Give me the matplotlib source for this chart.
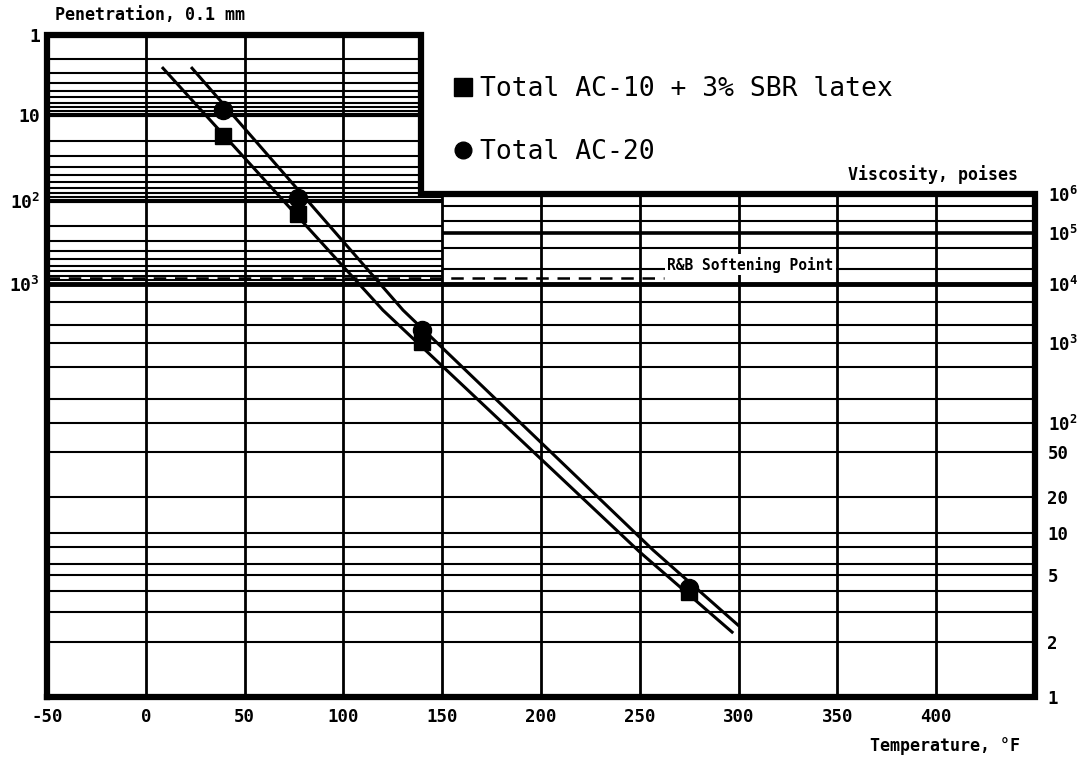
import numpy as np
import matplotlib
matplotlib.use("Agg")
import matplotlib.pyplot as plt
from matplotlib.lines import Line2D

plt.rcParams['font.family'] = ['DejaVu Sans Mono']
plt.rcParams['mathtext.fontset'] = 'custom'
plt.rcParams['mathtext.rm'] = 'DejaVu Sans Mono:bold'
plt.rcParams['mathtext.default'] = 'rm'

# chart scales: value -> vertical chart position (0 = top of penetration box)
PEN_TICKS = [1, 10, 100, 1000]
PEN_POS = [0, 80, 166, 249]
VISC_TICKS = [1, 2, 5, 10, 20, 50, 100, 1e3, 1e4, 1e5, 1e6]
VISC_POS = [662, 607, 540, 498, 462, 417, 388, 308, 249, 198, 159]

pen_grid = [m * 10 ** k for k in range(3) for m in range(1, 10)] + [1000]
visc_grid = [1, 2, 3, 4, 5, 6, 8, 10, 20, 50, 100, 200, 500,
             1e3, 2e3, 5e3, 1e4, 2e4, 5e4, 1e5, 2e5, 5e5, 1e6]
temp_ticks = [-50, 0, 50, 100, 150, 200, 250, 300, 350, 400]
pen_box_edge = 139.3      # right edge of the penetration box, degF
softening_visc = 13000    # R&B softening point, poises

# measured data
pen_temps = [39.2, 77]
visc_temps = [140, 275]
sbr_pen = [17.5, 143]
sbr_visc = [1050, 3.95]
ac20_pen = [8.7, 92]
ac20_visc = [1650, 4.2]

# drawn lines: first vertex on penetration scale, the rest on viscosity scale
sbr_line_temp = [8.7, 120, 250, 296.7]
sbr_line_pen = 2.6
sbr_line_visc = [3600, 7.3, 2.29]
ac20_line_temp = [23.4, 130.2, 256.7, 299.7]
ac20_line_pen = 2.6
ac20_line_visc = [3600, 7.55, 2.52]


def pen_pos(p):
    return np.interp(np.log10(p), np.log10(PEN_TICKS), PEN_POS)


def visc_pos(v):
    return np.interp(np.log10(v), np.log10(VISC_TICKS), VISC_POS)


fig = plt.figure(figsize=(10.8, 7.62), dpi=100)
ax = fig.add_axes([47 / 1080, 1 - 697 / 762, 988 / 1080, 662 / 762])
ymax = visc_pos(1)
ax.set_xlim(-50, 450)
ax.set_ylim(ymax, 0)
ax.set_frame_on(False)

top_right = visc_pos(1e6)
k = dict(color='black', solid_capstyle='butt', zorder=2)

# penetration grid
for p in pen_grid:
    if p in (1, 1000):
        continue
    y = pen_pos(p)
    x1 = pen_box_edge if y < top_right else 150
    lw = 3.0 if p in (10, 100) else 1.5
    ax.plot([-50, x1], [y, y], lw=lw, **k)

# viscosity grid
for v in visc_grid:
    if v in (1, 1e6):
        continue
    y = visc_pos(v)
    x0 = 150 if v > 1e4 else -50
    lw = {1e4: 3.5, 1e5: 2.6}.get(v, 1.5)
    ax.plot([x0, 450], [y, y], lw=lw, **k)

# vertical grid
for t in temp_ticks[1:]:
    y0 = 0 if t < 150 else top_right
    ax.plot([t, t], [y0, ymax], lw=2.0, **k)

# border
bx = [-50, -50, pen_box_edge, pen_box_edge, 450, 450, -50]
by = [ymax, 0, 0, top_right, top_right, ymax, ymax]
ax.plot(bx, by, color='black', lw=4.5, solid_joinstyle='miter',
        clip_on=False, zorder=5)

# softening point
ys = visc_pos(softening_visc)
ax.plot([-50, 262], [ys, ys], color='black', lw=1.8, ls=(0, (5, 3.5)), zorder=3)
ax.text(306, visc_pos(2e4) - 4, 'R&B Softening Point', ha='center', va='center',
        fontsize=10.5, fontweight='bold', zorder=4,
        bbox=dict(facecolor='white', edgecolor='none', pad=2))

# fitted lines
for lt, lp, lv in [(sbr_line_temp, sbr_line_pen, sbr_line_visc),
                   (ac20_line_temp, ac20_line_pen, ac20_line_visc)]:
    ly = np.concatenate([[pen_pos(lp)], visc_pos(np.array(lv))])
    ax.plot(lt, ly, color='black', lw=2.2, zorder=6)

# data points
ax.plot(pen_temps, pen_pos(np.array(sbr_pen)), 's', color='black', ms=12, zorder=7)
ax.plot(visc_temps, visc_pos(np.array(sbr_visc)), 's', color='black', ms=12, zorder=7)
ax.plot(pen_temps, pen_pos(np.array(ac20_pen)), 'o', color='black', ms=13, zorder=7)
ax.plot(visc_temps, visc_pos(np.array(ac20_visc)), 'o', color='black', ms=13, zorder=7)

# legend
handles = [Line2D([], [], ls='none', marker='s', color='black', ms=13),
           Line2D([], [], ls='none', marker='o', color='black', ms=12)]
fig.legend(handles, ['Total AC-10 + 3% SBR latex', 'Total AC-20'],
           loc='upper left', bbox_to_anchor=(455 / 1080, 1 - 76 / 762),
           frameon=False, fontsize=19, handlelength=0.6, handletextpad=0.35,
           labelspacing=1.4, borderpad=0, borderaxespad=0)

# ticks
ax.set_xticks(temp_ticks)
ax.set_xticklabels([str(t) for t in temp_ticks], fontsize=12.5, fontweight='bold')
ax.tick_params(axis='x', length=0, pad=8)
ax.set_yticks(pen_pos(np.array(PEN_TICKS)))
ax.set_yticklabels(['1', '10', '$10^2$', '$10^3$'], fontsize=13, fontweight='bold')
ax.tick_params(axis='y', length=0, pad=5)

visc_labels = [1e6, 1e5, 1e4, 1e3, 100, 50, 20, 10, 5, 2, 1]
visc_text = ['$10^6$', '$10^5$', '$10^4$', '$10^3$', '$10^2$',
             '50', '20', '10', '5', '2', '1']
ax2 = ax.twinx()
ax2.set_ylim(ymax, 0)
ax2.set_frame_on(False)
ax2.set_yticks(visc_pos(np.array(visc_labels)))
ax2.set_yticklabels(visc_text, fontsize=12.5, fontweight='bold')
ax2.tick_params(axis='y', length=0, pad=9)

fig.text(55 / 1080, 1 - 15 / 762, 'Penetration, 0.1 mm', ha='left', va='center',
         fontsize=12, fontweight='bold')
fig.text(1018 / 1080, 1 - 175 / 762, 'Viscosity, poises', ha='right', va='center',
         fontsize=12, fontweight='bold')
fig.text(1020 / 1080, 1 - 746 / 762, 'Temperature, \u00b0F', ha='right', va='center',
         fontsize=12, fontweight='bold')

fig.savefig('out.png', dpi=100, facecolor='white')
